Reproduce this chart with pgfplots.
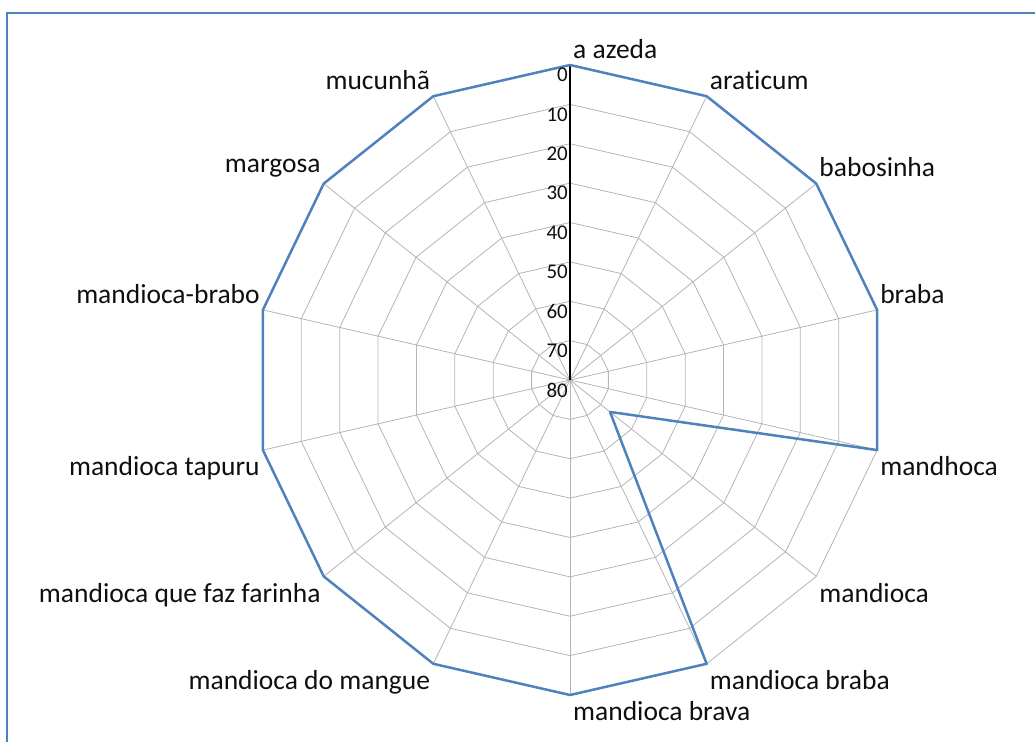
\documentclass[border=0pt]{standalone}
\usepackage{pgfplots}
\pgfplotsset{compat=1.18}
\usepgfplotslibrary{polar}
\usepackage{pgfplotstable}
\usepackage{fontspec}
\setmainfont{Carlito}[Ligatures=NoCommon]
\definecolor{serie}{RGB}{79,129,189}
\definecolor{gridc}{RGB}{180,180,180}
\definecolor{labc}{RGB}{15,15,15}

% angle (deg, counter-clockwise from east), value (0 = outer ring, 80 = centre)
\pgfplotstableread{
angle value
90 0
64.2857 0
38.5714 0
12.8571 0
-12.8571 0
-38.5714 67
-64.2857 0
-90 0
-115.7143 0
-141.4286 0
-167.1429 0
-192.8571 0
-218.5714 0
-244.2857 0
-270 0
}\datatable

\newcommand{\ring}[1]{\addplot[gridc, line width=0.8bp, forget plot] coordinates {
(90,#1) (64.2857,#1) (38.5714,#1) (12.8571,#1) (-12.8571,#1) (-38.5714,#1) (-64.2857,#1)
(-90,#1) (-115.7143,#1) (-141.4286,#1) (-167.1429,#1) (-192.8571,#1) (-218.5714,#1)
(-244.2857,#1) (-270,#1)};}

\begin{document}
\begin{tikzpicture}
\useasboundingbox (0,0) rectangle (1035bp,742bp);
\begin{polaraxis}[
  at={(570bp,362bp)}, anchor=center,
  scale only axis, width=630bp, height=630bp,
  hide axis, clip=false,
  xmin=0, xmax=360, ymin=0, ymax=80,
]
% rings (radius = 80 - value)
\ring{10}\ring{20}\ring{30}\ring{40}\ring{50}\ring{60}\ring{70}\ring{80}
% spokes
\pgfplotsinvokeforeach{64.2857,38.5714,12.8571,-12.8571,-38.5714,-64.2857,-90,-115.7143,-141.4286,-167.1429,-192.8571,-218.5714,-244.2857}{
  \addplot[gridc, line width=0.8bp, forget plot] coordinates {(#1,0) (#1,80)};
}
\addplot[black, line width=1.5bp, forget plot] coordinates {(90,0) (90,80)};
% data
\addplot[serie, line width=2.5bp, line join=round] table[x=angle, y expr=80-\thisrow{value}] {\datatable};
% tick labels
\pgfplotsinvokeforeach{0,10,20,30,40,50,60,70,80}{
  \node[anchor=north east, inner sep=0pt, xshift=-2bp, yshift=-3bp, text=labc, font=\fontsize{21bp}{24bp}\selectfont] at (axis cs:90,{80-#1}) {#1};
}
% category labels
\begin{scope}[every node/.style={inner xsep=3bp, inner ysep=6.5bp, text=labc, font=\fontsize{27.5bp}{32bp}\selectfont}]
\node[anchor=south west] at (axis cs:90,80) {a azeda};
\node[anchor=south west] at (axis cs:64.2857,80) {araticum};
\node[anchor=south west] at (axis cs:38.5714,80) {babosinha};
\node[anchor=south west] at (axis cs:12.8571,80) {braba};
\node[anchor=north west] at (axis cs:-12.8571,80) {mandhoca};
\node[anchor=north west] at (axis cs:-38.5714,80) {mandioca};
\node[anchor=north west] at (axis cs:-64.2857,80) {mandioca braba};
\node[anchor=north west] at (axis cs:-90,80) {mandioca brava};
\node[anchor=north east] at (axis cs:-115.7143,80) {mandioca do mangue};
\node[anchor=north east] at (axis cs:-141.4286,80) {mandioca que faz farinha};
\node[anchor=north east] at (axis cs:-167.1429,80) {mandioca tapuru};
\node[anchor=south east] at (axis cs:-192.8571,80) {mandioca-brabo};
\node[anchor=south east] at (axis cs:-218.5714,80) {margosa};
\node[anchor=south east] at (axis cs:-244.2857,80) {mucunhã};
\end{scope}
\end{polaraxis}
\draw[serie, line width=2bp] (7bp,-5bp) -- (7bp,729bp) -- (1040bp,729bp);
\end{tikzpicture}
\end{document}
